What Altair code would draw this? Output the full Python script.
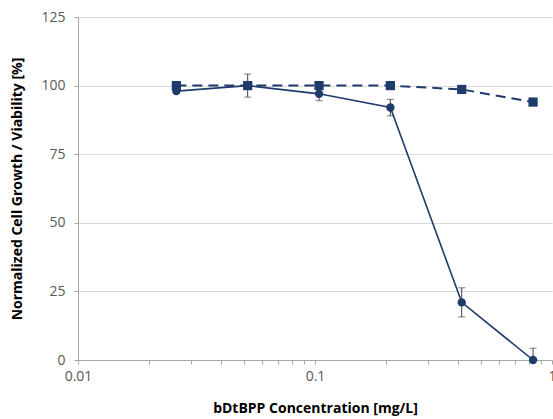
import altair as alt
import pandas as pd

conc = [0.026, 0.052, 0.104, 0.208, 0.416, 0.832]
growth = [98.0, 100.0, 97.0, 92.0, 21.0, 0.0]
growth_err = [0.8, 4.2, 2.5, 3.0, 5.3, 4.3]
viability = [100.0, 100.0, 100.0, 100.0, 98.6, 94.0]

x_ticks = [0.01, 0.02, 0.03, 0.04, 0.05, 0.06, 0.07, 0.08, 0.09,
           0.1, 0.2, 0.3, 0.4, 0.5, 0.6, 0.7, 0.8, 0.9, 1.0]
y_ticks = [0, 25, 50, 75, 100, 125]

COLOR = "#1f3b6b"
FONT = "Open Sans"

df = pd.DataFrame({
    "conc": conc,
    "growth": growth,
    "lo": [g - e for g, e in zip(growth, growth_err)],
    "hi": [g + e for g, e in zip(growth, growth_err)],
    "viability": viability,
})

xs = alt.Scale(type="log", domain=[0.01, 1])
ys = alt.Scale(domain=[0, 125])

x_axis = alt.Axis(
    values=x_ticks,
    labelExpr="(datum.value == 0.01 || datum.value == 0.1 || datum.value == 1) ? datum.label : ''",
    format="~g",
    grid=False,
    tickSize=4,
    tickColor="#a6a6a6",
    domainColor="#a6a6a6",
    labelColor="#595959",
    labelFontSize=14,
    labelFont=FONT,
    labelPadding=5,
    labelFlush=False,
    title="bDtBPP Concentration [mg/L]",
    titleFont=FONT,
    titleFontSize=14,
    titleFontWeight="bold",
    titleColor="#000000",
    titlePadding=18,
)
y_axis = alt.Axis(
    values=y_ticks,
    grid=True,
    gridColor="#d9d9d9",
    gridWidth=1,
    ticks=True,
    tickSize=4,
    tickColor="#a6a6a6",
    domainColor="#a6a6a6",
    labelColor="#595959",
    labelFontSize=14,
    labelFont=FONT,
    labelPadding=9,
    title="Normalized Cell Growth / Viability [%]",
    titleFont=FONT,
    titleFontSize=14,
    titleFontWeight="bold",
    titleColor="#000000",
    titlePadding=16,
)

base = alt.Chart(df)

via_line = base.mark_line(color=COLOR, strokeWidth=2, strokeDash=[10, 6]).encode(
    x=alt.X("conc:Q", scale=xs, axis=x_axis),
    y=alt.Y("viability:Q", scale=ys, axis=y_axis),
)
via_pts = base.mark_point(shape="square", filled=True, size=85, color=COLOR, opacity=1).encode(
    x=alt.X("conc:Q", scale=xs),
    y=alt.Y("viability:Q", scale=ys),
)
err_rule = base.mark_rule(color="#404040", strokeWidth=1, clip=True).encode(
    x=alt.X("conc:Q", scale=xs),
    y=alt.Y("lo:Q", scale=ys),
    y2="hi:Q",
)
err_lo = base.mark_tick(color="#404040", size=7, thickness=1, orient="horizontal", clip=True).encode(
    x=alt.X("conc:Q", scale=xs),
    y=alt.Y("lo:Q", scale=ys),
)
err_hi = base.mark_tick(color="#404040", size=7, thickness=1, orient="horizontal").encode(
    x=alt.X("conc:Q", scale=xs),
    y=alt.Y("hi:Q", scale=ys),
)
gr_line = base.mark_line(color=COLOR, strokeWidth=1.6).encode(
    x=alt.X("conc:Q", scale=xs),
    y=alt.Y("growth:Q", scale=ys),
)
gr_pts = base.mark_point(shape="circle", filled=True, size=70, color=COLOR, opacity=1).encode(
    x=alt.X("conc:Q", scale=xs),
    y=alt.Y("growth:Q", scale=ys),
)

chart = alt.layer(via_line, err_rule, err_lo, err_hi, gr_line, via_pts, gr_pts).properties(
    width=474,
    height=343,
    autosize=alt.AutoSizeParams(type="none"),
    padding={"left": 78, "top": 17, "right": 1, "bottom": 59},
    background="white",
).configure_view(stroke=None)

chart.save("out.html", embed_options={"renderer": "svg", "actions": False})
